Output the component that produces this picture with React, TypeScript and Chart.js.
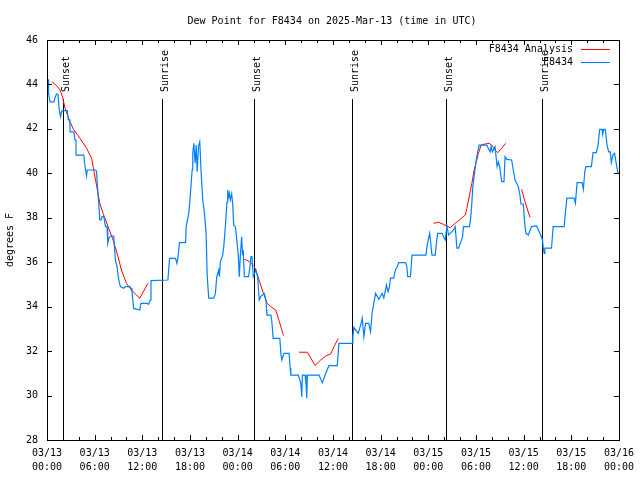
import React, { useEffect, useRef } from "react";
import { Chart, registerables } from "chart.js";

Chart.register(...registerables);

const TITLE = "Dew Point for F8434 on 2025-Mar-13 (time in UTC)";
const Y_LABEL = "degrees F";
const ANALYSIS_LABEL = "F8434 Analysis";
const OBS_LABEL = "F8434";

const TICK_DATES = ["03/13", "03/13", "03/13", "03/13", "03/14", "03/14", "03/14", "03/14", "03/15", "03/15", "03/15", "03/15", "03/16"];
const TICK_TIMES = ["00:00", "06:00", "12:00", "18:00", "00:00", "06:00", "12:00", "18:00", "00:00", "06:00", "12:00", "18:00", "00:00"];

// hours since 03/13 00:00 UTC
const SUN_HOURS = [2.03, 14.45, 26.12, 38.42, 50.22, 62.37];
const SUN_LABELS = ["Sunset", "Sunrise", "Sunset", "Sunrise", "Sunset", "Sunrise"];

// [hour, dew point F]
const OBS_POINTS: [number, number][] = [
  [0.13, 44.23], [0.2, 43.6], [0.38, 43.22], [0.88, 43.22], [1.0, 43.4], [1.21, 43.57], [1.38, 43.57], [1.5, 43.0],
  [1.59, 42.77], [1.71, 42.55], [1.8, 42.73], [1.92, 42.82], [2.55, 42.82], [2.68, 42.4], [2.88, 42.4], [2.9, 41.87],
  [3.39, 41.87], [3.51, 41.5], [3.64, 41.5], [3.66, 40.82], [4.64, 40.82], [4.72, 40.52], [4.85, 40.15], [4.98, 39.88],
  [5.06, 40.15], [6.1, 40.15], [6.23, 40.1], [6.4, 39.17], [6.52, 38.65], [6.65, 37.9], [6.81, 37.9], [6.94, 38.05],
  [7.15, 38.05], [7.36, 37.6], [7.56, 37.6], [7.65, 36.85], [7.78, 37.07], [7.99, 37.18], [8.4, 37.18], [8.49, 36.7],
  [8.61, 36.1], [8.82, 35.8], [9.03, 35.2], [9.24, 34.9], [9.66, 34.83], [9.87, 34.9], [10.41, 34.9], [10.58, 34.83],
  [10.7, 34.67], [10.91, 33.92], [11.67, 33.85], [11.83, 34.15], [12.58, 34.15], [12.79, 34.1], [13.0, 34.3], [13.09, 35.17],
  [15.22, 35.2], [15.43, 36.17], [16.18, 36.17], [16.35, 35.95], [16.47, 36.17], [16.68, 36.88], [17.44, 36.88], [17.52, 37.6],
  [17.85, 38.2], [18.06, 39.1], [18.27, 40.15], [18.35, 40.9], [18.48, 41.35], [18.65, 40.45], [18.78, 41.27], [18.9, 40.07],
  [19.07, 41.2], [19.23, 41.42], [19.4, 40.07], [19.61, 38.8], [19.82, 38.2], [20.03, 37.3], [20.16, 35.42], [20.36, 34.38],
  [20.99, 34.38], [21.2, 34.6], [21.37, 35.35], [21.62, 35.65], [21.7, 35.35], [21.83, 36.02], [22.12, 36.32], [22.25, 36.7],
  [22.42, 37.45], [22.66, 38.72], [22.75, 39.25], [22.87, 38.95], [22.96, 39.1], [23.08, 38.8], [23.25, 39.07], [23.37, 38.65],
  [23.5, 37.67], [23.71, 37.6], [23.87, 37.07], [24.08, 36.32], [24.21, 35.35], [24.33, 36.25], [24.5, 37.15], [24.62, 36.32],
  [24.7, 36.55], [24.84, 35.35], [25.38, 35.35], [25.55, 35.8], [25.68, 36.25], [25.8, 36.25], [25.97, 35.35], [26.3, 35.65],
  [26.51, 35.35], [26.72, 34.3], [26.9, 34.45], [27.35, 34.6], [27.56, 34.3], [27.64, 33.85], [27.68, 33.62], [28.18, 33.62],
  [28.31, 33.32], [28.47, 32.57], [29.31, 32.57], [29.44, 31.9], [29.56, 31.6], [29.85, 31.9], [30.48, 31.9], [30.61, 31.23],
  [30.69, 30.92], [31.65, 30.92], [31.95, 30.55], [32.07, 29.95], [32.15, 30.92], [32.49, 30.92], [32.6, 30.55], [32.7, 29.88],
  [32.78, 30.92], [33.62, 30.92], [34.24, 30.92], [34.66, 30.58], [35.09, 31.0], [35.5, 31.35], [36.54, 31.35], [36.75, 32.35],
  [38.42, 32.35], [38.5, 32.65], [38.63, 33.07], [39.18, 32.8], [39.54, 33.25], [39.68, 33.48], [39.89, 32.65], [40.1, 33.25],
  [40.5, 33.25], [40.73, 32.87], [40.94, 33.77], [41.14, 34.15], [41.36, 34.6], [41.77, 34.33], [42.19, 34.6], [42.4, 34.4],
  [42.61, 34.75], [42.73, 34.97], [42.94, 34.67], [43.11, 34.9], [43.24, 35.28], [43.65, 35.28], [43.86, 35.65], [44.07, 35.8],
  [44.28, 35.98], [45.12, 35.98], [45.3, 35.8], [45.41, 35.35], [45.75, 35.35], [45.95, 36.32], [47.71, 36.32], [47.83, 36.7],
  [48.04, 37.08], [48.17, 37.3], [48.3, 36.9], [48.46, 36.32], [48.88, 36.32], [49.0, 36.8], [49.17, 37.3], [49.71, 37.3],
  [50.14, 37.0], [50.34, 37.63], [50.55, 37.22], [51.18, 37.45], [51.39, 37.6], [51.6, 36.63], [51.81, 36.63], [52.31, 37.15],
  [52.43, 37.6], [53.19, 37.6], [53.35, 38.05], [53.48, 38.65], [53.6, 39.4], [53.77, 39.85], [53.9, 40.23], [54.1, 40.75],
  [54.4, 41.27], [55.36, 41.27], [55.78, 40.97], [55.9, 41.2], [56.07, 40.97], [56.4, 41.2], [56.66, 40.3], [56.82, 40.52],
  [56.99, 40.3], [57.24, 39.63], [57.53, 39.63], [57.66, 40.75], [57.87, 40.63], [58.49, 40.6], [58.7, 40.15], [58.92, 39.7],
  [59.33, 39.4], [59.54, 39.02], [59.66, 38.62], [59.96, 38.62], [60.17, 37.6], [60.3, 37.3], [60.59, 37.22], [61.0, 37.6],
  [61.63, 37.63], [62.05, 37.3], [62.38, 37.0], [62.47, 36.63], [62.59, 36.4], [62.68, 36.63], [63.51, 36.63], [63.72, 37.6],
  [65.1, 37.6], [65.27, 38.27], [65.44, 38.88], [66.36, 38.88], [66.52, 38.65], [66.73, 39.58], [67.36, 39.58], [67.52, 39.28],
  [67.7, 40.07], [67.83, 40.3], [68.53, 40.3], [68.74, 40.93], [69.16, 40.93], [69.37, 41.27], [69.58, 41.98], [69.87, 41.98],
  [69.95, 41.77], [70.1, 41.98], [70.28, 41.98], [70.5, 41.27], [70.7, 40.97], [70.91, 40.97], [71.04, 40.48], [71.25, 40.83],
  [71.45, 40.9], [71.66, 40.45], [71.88, 40.0],
];

// null marks a gap in the analysis line
const ANALYSIS_POINTS: [number, number | null][] = [
  [0.6, 44.13], [1.2, 43.95], [1.63, 43.75], [1.95, 43.45], [2.26, 42.95], [2.67, 42.52], [3.3, 42.0], [4.14, 41.58],
  [4.98, 41.13], [5.61, 40.68], [5.81, 40.3], [6.23, 39.47], [6.65, 38.65], [7.06, 38.2], [7.69, 37.6], [8.32, 37.0],
  [8.94, 36.25], [9.37, 35.65], [10.0, 35.05], [10.62, 34.75], [11.67, 34.38], [12.71, 35.05],
  [13.5, null],
  [24.84, 36.14], [25.46, 36.03], [26.1, 35.8], [26.5, 35.42], [27.1, 34.75], [27.7, 34.15], [28.18, 34.0], [28.8, 33.85],
  [29.23, 33.35], [29.77, 32.7],
  [30.5, null],
  [31.74, 31.95], [32.78, 31.95], [33.74, 31.35], [34.45, 31.6], [35.09, 31.78], [35.71, 31.87], [36.13, 32.2], [36.67, 32.57],
  [40.0, null],
  [48.67, 37.75], [49.3, 37.8], [49.93, 37.7], [50.76, 37.55], [51.39, 37.75], [52.02, 37.93], [52.65, 38.12], [52.85, 38.42],
  [53.27, 39.17], [53.48, 39.55], [53.77, 40.15], [54.1, 40.6], [54.31, 40.9], [54.65, 41.27], [55.15, 41.32], [55.65, 41.35],
  [55.99, 41.27], [56.32, 41.08], [56.74, 40.93], [57.24, 41.13], [57.74, 41.35],
  [58.5, null],
  [59.75, 39.28], [60.17, 38.72], [60.8, 38.02],
];

const Y_MIN = 28;
const Y_MAX = 46;
const X_MIN = 0;
const X_MAX = 72;

const RED = "rgb(255,0,0)";
const BLUE = "rgb(0,128,255)";
const FONT = "DejaVu Sans Mono";

const gnuplotDecor = {
  id: "gnuplotDecor",
  beforeDatasetsDraw(chart: any) {
    const { ctx, chartArea, scales } = chart;
    const xs = scales.x;
    ctx.save();
    ctx.strokeStyle = "#000";
    ctx.lineWidth = 1;
    SUN_HOURS.forEach((h) => {
      const x = Math.round(xs.getPixelForValue(h)) + 0.5;
      ctx.beginPath();
      ctx.moveTo(x, 99);
      ctx.lineTo(x, chartArea.bottom);
      ctx.stroke();
    });
    ctx.restore();
  },
  afterDraw(chart: any) {
    const { ctx, chartArea, scales } = chart;
    const xs = scales.x;
    const ys = scales.y;
    const { left, right, top, bottom } = chartArea;
    ctx.save();
    ctx.strokeStyle = "#000";
    ctx.lineWidth = 1;
    // frame
    ctx.strokeRect(Math.round(left) + 0.5, Math.round(top) + 0.5, Math.round(right - left), Math.round(bottom - top));
    // x ticks (major every 6 h, minor every 2 h), inward on bottom and top
    for (let h = X_MIN; h <= X_MAX; h += 2) {
      const x = Math.round(xs.getPixelForValue(h)) + 0.5;
      const len = h % 6 === 0 ? 5 : 3;
      ctx.beginPath();
      ctx.moveTo(x, bottom);
      ctx.lineTo(x, bottom - len);
      ctx.moveTo(x, top);
      ctx.lineTo(x, top + len);
      ctx.stroke();
    }
    // y ticks inward on left and right
    for (let v = Y_MIN; v <= Y_MAX; v += 2) {
      const y = Math.round(ys.getPixelForValue(v)) + 0.5;
      ctx.beginPath();
      ctx.moveTo(left, y);
      ctx.lineTo(left + 5, y);
      ctx.moveTo(right, y);
      ctx.lineTo(right - 5, y);
      ctx.stroke();
    }
    ctx.fillStyle = "#000";
    ctx.font = `10px "${FONT}"`;
    // title
    ctx.textAlign = "center";
    ctx.textBaseline = "alphabetic";
    ctx.fillText(TITLE, 332, 24);
    // y axis label
    ctx.save();
    ctx.translate(13, 240);
    ctx.rotate(-Math.PI / 2);
    ctx.textAlign = "center";
    ctx.textBaseline = "alphabetic";
    ctx.fillText(Y_LABEL, 0, 0);
    ctx.restore();
    // sunrise / sunset labels
    SUN_HOURS.forEach((h, i) => {
      const x = Math.round(xs.getPixelForValue(h)) + 0.5;
      ctx.save();
      ctx.translate(x + 5.5, 92);
      ctx.rotate(-Math.PI / 2);
      ctx.textAlign = "left";
      ctx.textBaseline = "alphabetic";
      ctx.fillText(SUN_LABELS[i], 0, 0);
      ctx.restore();
    });
    // legend
    const rows = [
      { label: chart.data.datasets[0].label, color: chart.data.datasets[0].borderColor, y: 49.5 },
      { label: chart.data.datasets[1].label, color: chart.data.datasets[1].borderColor, y: 62.5 },
    ];
    rows.forEach((r) => {
      ctx.textAlign = "right";
      ctx.textBaseline = "middle";
      ctx.fillStyle = "#000";
      ctx.fillText(r.label, 573, r.y);
      ctx.strokeStyle = r.color;
      ctx.beginPath();
      ctx.moveTo(581, r.y);
      ctx.lineTo(610, r.y);
      ctx.stroke();
    });
    ctx.restore();
  },
};

export default function App() {
  const ref = useRef<HTMLCanvasElement>(null);
  useEffect(() => {
    const canvas = ref.current;
    if (!canvas) return;
    const chart = new Chart(canvas, {
      type: "line",
      data: {
        datasets: [
          {
            label: ANALYSIS_LABEL,
            data: ANALYSIS_POINTS.map(([x, y]) => ({ x, y })) as any,
            borderColor: RED,
            borderWidth: 1,
            pointRadius: 0,
            tension: 0,
            spanGaps: false,
            order: 1,
          },
          {
            label: OBS_LABEL,
            data: OBS_POINTS.map(([x, y]) => ({ x, y })),
            borderColor: BLUE,
            borderWidth: 1.2,
            pointRadius: 0,
            tension: 0,
            order: 0,
          },
        ],
      },
      plugins: [gnuplotDecor],
      options: {
        responsive: false,
        animation: false,
        events: [],
        layout: { padding: { top: 40, right: 19, bottom: 0, left: 0 } },
        plugins: {
          legend: { display: false },
          title: { display: false },
          tooltip: { enabled: false },
        },
        scales: {
          x: {
            type: "linear",
            min: X_MIN,
            max: X_MAX,
            afterFit: (scale: any) => {
              scale.height = 40;
            },
            grid: { display: false, drawTicks: false },
            border: { display: false },
            ticks: {
              stepSize: 6,
              autoSkip: false,
              maxRotation: 0,
              minRotation: 0,
              padding: 6,
              color: "#000",
              font: { family: FONT, size: 10, lineHeight: 1.4 },
              callback: (_v: any, i: number) => [TICK_DATES[i], TICK_TIMES[i]],
            },
          },
          y: {
            type: "linear",
            min: Y_MIN,
            max: Y_MAX,
            afterFit: (scale: any) => {
              scale.width = 47;
            },
            grid: { display: false, drawTicks: false },
            border: { display: false },
            ticks: {
              stepSize: 2,
              padding: 9,
              color: "#000",
              font: { family: FONT, size: 10 },
            },
          },
        },
      },
    });
    return () => chart.destroy();
  }, []);
  return (
    <div style={{ position: "fixed", left: 0, top: 0, width: 640, height: 480, background: "#fff" }}>
      <canvas ref={ref} width={640} height={480} style={{ display: "block", width: 640, height: 480 }} />
    </div>
  );
}
